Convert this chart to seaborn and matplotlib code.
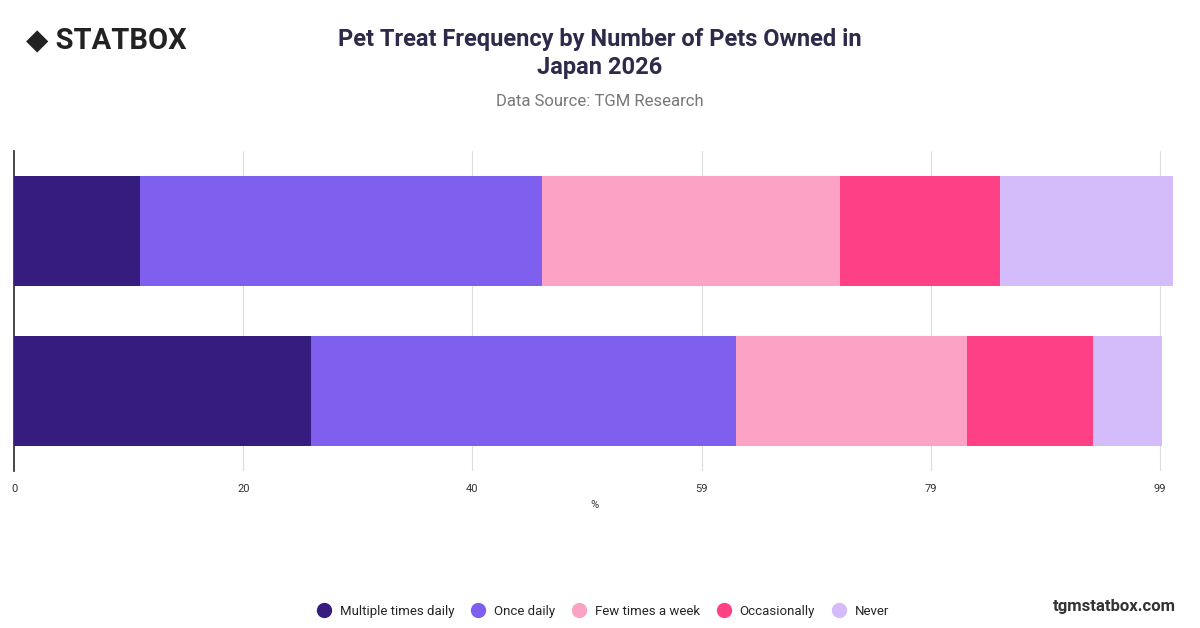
import matplotlib
matplotlib.use("Agg")
import matplotlib.pyplot as plt
import seaborn as sns
import pandas as pd
import numpy as np

sns.set_theme(style="white")
plt.rcParams['font.family'] = ['Roboto', 'DejaVu Sans']

groups = ["1 pet", "2+ pets"]
series = ["Multiple times daily", "Once daily", "Few times a week", "Occasionally", "Never"]
colors = ["#371c80", "#7f5fee", "#fca3c5", "#fe4186", "#d4bcfa"]
values = {
    "Multiple times daily": [10.9, 25.7],
    "Once daily": [34.7, 36.7],
    "Few times a week": [25.8, 19.9],
    "Occasionally": [13.8, 10.9],
    "Never": [14.9, 6.0],
}
tick_vals = [0, 19.8, 39.6, 59.4, 79.2, 99]
tick_labels = ["0", "20", "40", "59", "79", "99"]

fig = plt.figure(figsize=(12, 6.28), dpi=100)
ax = fig.add_axes([14/1200, 1-471/628, (1175-14)/1200, (471-151)/628])

left = np.zeros(len(groups))
for s, c in zip(series, colors):
    df = pd.DataFrame({"g": groups, "v": np.array(values[s]) + left})
    sns.barplot(data=df, y="g", x="v", color=c, orient="h", ax=ax, width=0.69,
                saturation=1, order=groups)
    left += np.array(values[s])
for i, cont in enumerate(ax.containers):
    for p in cont:
        p.set_zorder(10 - i)
        p.set_linewidth(0)

ax.set_xlim(0, 100.3)
ax.set_ylim(1.5, -0.5)
ax.set_xticks(tick_vals)
ax.set_xticklabels(tick_labels, fontsize=8, color="#333333")
ax.set_yticks([])
ax.set_ylabel("")
ax.set_xlabel("%", fontsize=8, color="#333333")
ax.grid(axis="x", color="#dddddd", linewidth=0.8, zorder=0)
ax.set_axisbelow(True)
for sp in ["top", "right", "bottom"]:
    ax.spines[sp].set_visible(False)
ax.spines["left"].set_color("#333333")
ax.tick_params(axis="x", length=6, color="#333333")

fig.text(0.5, 0.915, "Pet Treat Frequency by Number of Pets Owned in\nJapan 2026",
         ha="center", va="center", fontsize=17, fontweight="bold", color="#2d2a4a",
         linespacing=1.3)
fig.text(0.5, 0.838, "Data Source: TGM Research", ha="center", va="center",
         fontsize=12, color="#777777")
fig.text(0.022, 0.935, "◆ STATBOX", ha="left", va="center", fontsize=21,
         fontweight="bold", color="#222222")
fig.text(0.98, 0.035, "tgmstatbox.com", ha="right", va="center", fontsize=12,
         fontweight="bold", color="#333333")

handles = [plt.Line2D([], [], marker="o", ls="", markersize=10, color=c) for c in colors]
fig.legend(handles, series, loc="center", bbox_to_anchor=(0.5, 0.027), ncol=5,
           frameon=False, fontsize=9.5, handletextpad=0.2, columnspacing=0.8)

fig.savefig("out.png", dpi=100)
